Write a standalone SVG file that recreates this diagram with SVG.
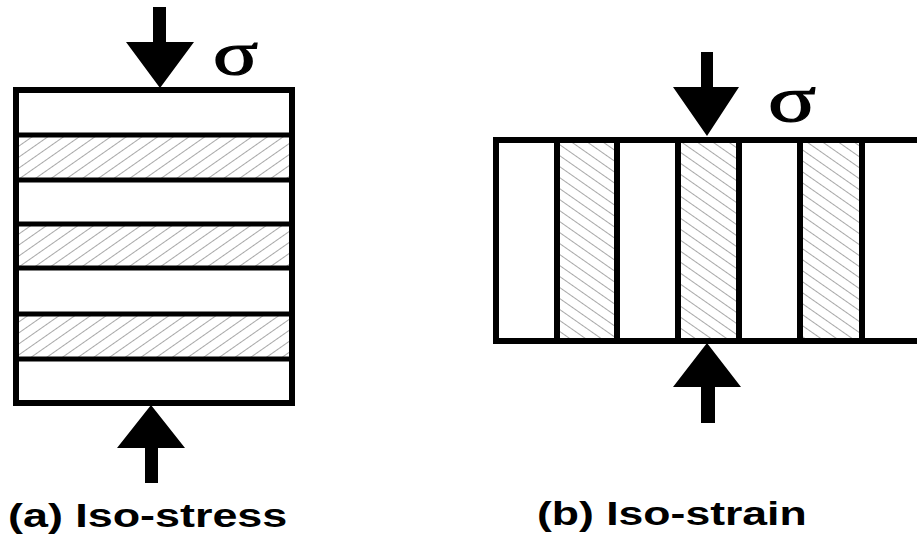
<svg xmlns="http://www.w3.org/2000/svg" width="917" height="540" viewBox="0 0 917 540">
  <style>
    .frame { fill: none; stroke: #000; stroke-width: 6; }
    .sep { stroke: #000; stroke-width: 5; }
    .arrow { fill: #000; }
    .sigma { font-family: "Liberation Serif", "Times New Roman", serif; fill: #000; stroke: #000; stroke-width: 1.2; }
    .caption { font-family: "Liberation Sans", Arial, sans-serif; font-weight: bold; font-size: 33px; fill: #000; }
  </style>
  <defs>
    <!-- forward-slash hatching for the stiff phase layers -->
    <pattern id="hatchFwd" patternUnits="userSpaceOnUse" width="40" height="9" patternTransform="rotate(-35)">
      <line x1="0" y1="4.5" x2="40" y2="4.5" stroke="#a8a8a8" stroke-width="1"/>
    </pattern>
    <!-- back-slash hatching for the stiff phase columns -->
    <pattern id="hatchBack" patternUnits="userSpaceOnUse" width="40" height="9" patternTransform="rotate(35)">
      <line x1="0" y1="4.5" x2="40" y2="4.5" stroke="#a8a8a8" stroke-width="1"/>
    </pattern>
  </defs>

  <!-- (a) layers stacked normal to the load -->
  <g id="iso-stress">
    <rect x="16" y="135" width="276" height="45" fill="url(#hatchFwd)"/>
    <rect x="16" y="224" width="276" height="44" fill="url(#hatchFwd)"/>
    <rect x="16" y="314" width="276" height="45" fill="url(#hatchFwd)"/>
    <line class="sep" x1="16" y1="135" x2="292" y2="135"/>
    <line class="sep" x1="16" y1="180" x2="292" y2="180"/>
    <line class="sep" x1="16" y1="224" x2="292" y2="224"/>
    <line class="sep" x1="16" y1="268" x2="292" y2="268"/>
    <line class="sep" x1="16" y1="314" x2="292" y2="314"/>
    <line class="sep" x1="16" y1="359" x2="292" y2="359"/>
    <rect class="frame" x="16" y="90" width="276" height="313"/>
    <text class="sigma" font-size="62" transform="translate(213,74) scale(1.35,1)">σ</text>
    <text class="caption" transform="translate(8,527) scale(1.36,1)">(a) Iso-stress</text>
  </g>

  <!-- (b) columns parallel to the load -->
  <g id="iso-strain">
    <rect x="557" y="140" width="60" height="201" fill="url(#hatchBack)"/>
    <rect x="678" y="140" width="61" height="201" fill="url(#hatchBack)"/>
    <rect x="800" y="140" width="62" height="201" fill="url(#hatchBack)"/>
    <line class="frame" x1="493" y1="140" x2="917" y2="140"/>
    <line class="frame" x1="493" y1="341" x2="917" y2="341"/>
    <line class="frame" x1="496" y1="137" x2="496" y2="344"/>
    <line class="frame" x1="557" y1="140" x2="557" y2="341"/>
    <line class="frame" x1="617" y1="140" x2="617" y2="341"/>
    <line class="frame" x1="678" y1="140" x2="678" y2="341"/>
    <line class="frame" x1="739" y1="140" x2="739" y2="341"/>
    <line class="frame" x1="800" y1="140" x2="800" y2="341"/>
    <line class="frame" x1="862" y1="140" x2="862" y2="341"/>
    <text class="sigma" font-size="66" transform="translate(768,121) scale(1.35,1)">σ</text>
    <text class="caption" transform="translate(537,525) scale(1.35,1)">(b) Iso-strain</text>
  </g>

  <!-- applied load arrows -->
  <g id="connectors">
    <polygon class="arrow" points="153,7 166,7 166,42 194,42 160,88 126,42 153,42"/>
    <polygon class="arrow" points="151,405 185,448 158,448 158,483 145,483 145,448 117,448"/>
    <polygon class="arrow" points="701,52 713,52 713,87 739,87 707,136 673,87 701,87"/>
    <polygon class="arrow" points="707,343 741,387 715,387 715,423 701,423 701,387 673,387"/>
  </g>
</svg>
